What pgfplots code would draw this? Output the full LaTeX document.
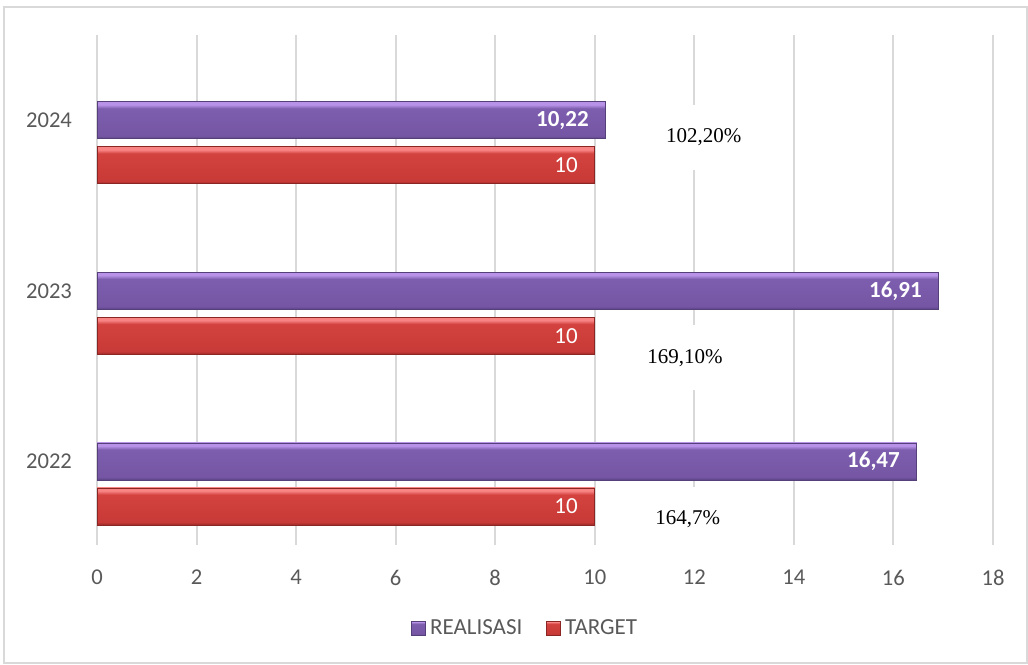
\documentclass[border=0pt]{standalone}
\usepackage{fontspec}
\setmainfont{Carlito}
\newfontfamily\serifnum{Liberation Serif}
\usepackage{pgfplots}
\pgfplotsset{compat=1.18}
\definecolor{tickgray}{HTML}{595959}
\definecolor{gridgray}{HTML}{D9D9D9}
\definecolor{purpleTop}{HTML}{B792E6}
\definecolor{purpleMid}{HTML}{7D5DAE}
\definecolor{purpleLow}{HTML}{7556A4}
\definecolor{purpleBot}{HTML}{5A4282}
\definecolor{purpleEdge}{HTML}{55407A}
\definecolor{redTop}{HTML}{F88484}
\definecolor{redMid}{HTML}{D3423F}
\definecolor{redLow}{HTML}{C83A37}
\definecolor{redBot}{HTML}{9A2A28}
\definecolor{redEdge}{HTML}{8A2624}
% the bar fills 25bp..75bp of these shadings
\pgfdeclareverticalshading{purpbar}{100bp}{color(0bp)=(purpleBot); color(25bp)=(purpleBot);
  color(29bp)=(purpleLow); color(66bp)=(purpleMid); color(71bp)=(purpleTop); color(100bp)=(purpleTop)}
\pgfdeclareverticalshading{redbar}{100bp}{color(0bp)=(redBot); color(25bp)=(redBot);
  color(29bp)=(redLow); color(66bp)=(redMid); color(71bp)=(redTop); color(100bp)=(redTop)}
\pgfplotsset{
  realbar/.style={draw=purpleEdge, line width=0.4pt, shading=purpbar,
    every node near coord/.append style={font=\bfseries\fontsize{11.5}{13}\selectfont}},
  targbar/.style={draw=redEdge, line width=0.4pt, shading=redbar},
}
\begin{document}
\begin{tikzpicture}
\useasboundingbox (0pt,0pt) rectangle (514pt,332pt);
\draw[gridgray, line width=0.8pt] (2pt,0.5pt) rectangle (513.5pt,328.5pt);
\begin{axis}[
  at={(48.5pt,59.5pt)}, anchor=south west,
  scale only axis, width=448pt, height=255pt,
  xmin=0, xmax=18, ymin=-0.49, ymax=2.50,
  xtick={0,2,...,18},
  ytick={0,1,2}, yticklabels={2022,2023,2024},
  xmajorgrids, grid style={gridgray, line width=1pt},
  axis line style={draw=none},
  major tick length=0pt,
  tick label style={font=\fontsize{11.3}{13}\selectfont, text=tickgray},
  xticklabel style={yshift=-9pt},
  yticklabel style={xshift=-9pt},
  /pgf/number format/assume math mode=true,
  xbar, bar width=18.5pt, bar shift=0pt,
  nodes near coords={\pgfmathprintnumber[use comma,fixed,precision=2]{\pgfplotspointmeta}},
  every node near coord/.append style={anchor=east, xshift=-5pt, text=white,
    font=\fontsize{11.5}{13}\selectfont},
  legend style={at={(0.479,-0.163)}, anchor=center, draw=none, fill=none,
    legend columns=2, font=\fontsize{11.5}{13}\selectfont, text=tickgray,
    /tikz/every even column/.append style={column sep=10pt}},
  legend image code/.code={\draw[#1] (0pt,-3.5pt) rectangle (7pt,3.5pt);},
  clip=false,
]
% REALISASI
\addplot[realbar] coordinates {(16.47,0)};
% TARGET
\addplot[targbar] coordinates {(10,-0.264)};
\addplot[realbar, forget plot] coordinates {(16.91,1)};
\addplot[realbar, forget plot] coordinates {(10.22,2)};
\addplot[targbar, forget plot] coordinates {(10,0.736)};
\addplot[targbar, forget plot] coordinates {(10,1.736)};
\legend{REALISASI, TARGET}
\node[fill=white, inner xsep=3pt, inner ysep=12pt, font=\serifnum\fontsize{10.5}{12}\selectfont]
  at (axis cs:12.19,1.90) {102,20\%};
\node[fill=white, inner xsep=3pt, inner ysep=12pt, font=\serifnum\fontsize{10.5}{12}\selectfont]
  at (axis cs:11.81,0.607) {169,10\%};
\node[fill=white, inner xsep=3pt, inner ysep=12pt, font=\serifnum\fontsize{10.5}{12}\selectfont]
  at (axis cs:11.87,-0.34) {164,7\%};
\end{axis}
\end{tikzpicture}
\end{document}
